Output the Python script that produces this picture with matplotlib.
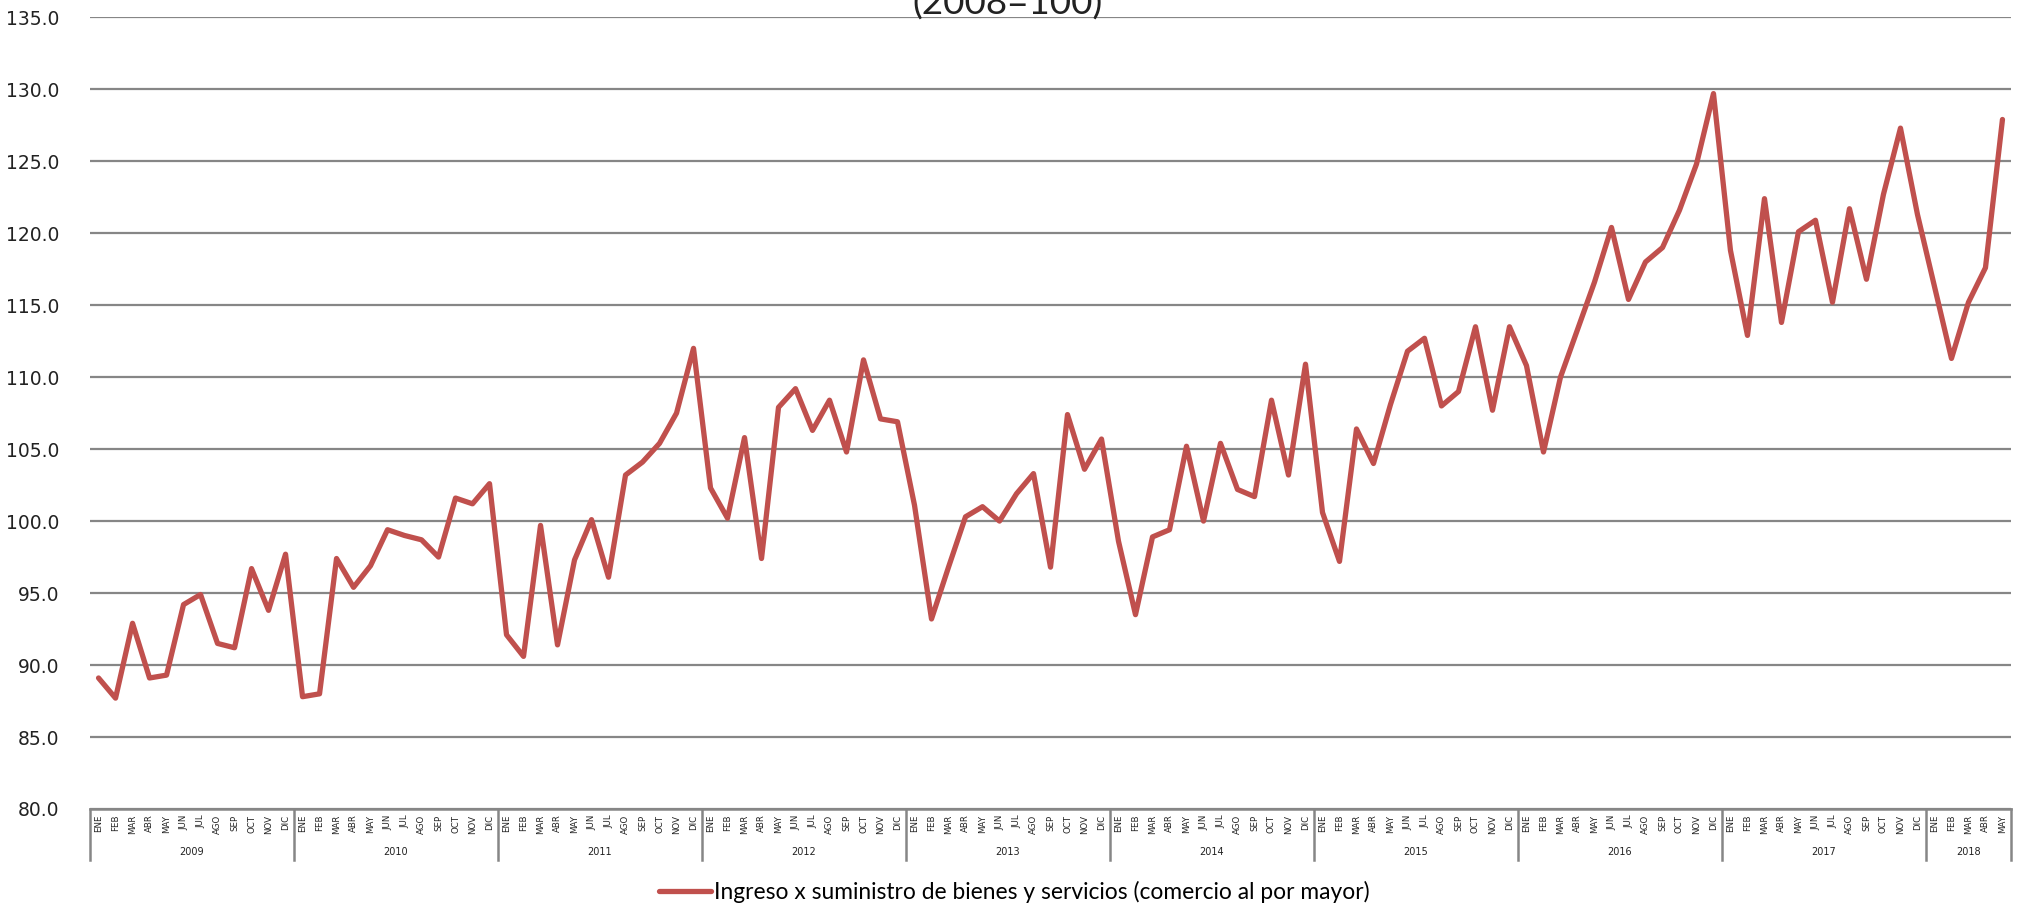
import numpy as np
import matplotlib.pyplot as plt
import matplotlib.transforms as mtransforms


#Data (index 2008=100):
meses = ['ENE', 'FEB', 'MAR', 'ABR', 'MAY', 'JUN', 'JUL', 'AGO', 'SEP', 'OCT', 'NOV', 'DIC']
anios = ['2009', '2010', '2011', '2012', '2013', '2014', '2015', '2016', '2017', '2018']

v2009 = [89.1, 87.7, 92.9, 89.1, 89.3, 94.2, 94.9, 91.5, 91.2, 96.7, 93.8, 97.7]
v2010 = [87.8, 88.0, 97.4, 95.4, 96.9, 99.4, 99.0, 98.7, 97.5, 101.6, 101.2, 102.6]
v2011 = [92.1, 90.6, 99.7, 91.4, 97.3, 100.1, 96.1, 103.2, 104.1, 105.4, 107.5, 112.0]
v2012 = [102.3, 100.2, 105.8, 97.4, 107.9, 109.2, 106.3, 108.4, 104.8, 111.2, 107.1, 106.9]
v2013 = [101.1, 93.2, 96.8, 100.3, 101.0, 100.0, 101.9, 103.3, 96.8, 107.4, 103.6, 105.7]
v2014 = [98.6, 93.5, 98.9, 99.4, 105.2, 100.0, 105.4, 102.2, 101.7, 108.4, 103.2, 110.9]
v2015 = [100.6, 97.2, 106.4, 104.0, 108.1, 111.8, 112.7, 108.0, 109.0, 113.5, 107.7, 113.5]
v2016 = [110.8, 104.8, 110.0, 113.3, 116.6, 120.4, 115.4, 118.0, 119.0, 121.6, 124.8, 129.7]
v2017 = [118.8, 112.9, 122.4, 113.8, 120.1, 120.9, 115.2, 121.7, 116.8, 122.7, 127.3, 121.3]
v2018 = [116.3, 111.3, 115.2, 117.6, 127.9]

serie = [v2009, v2010, v2011, v2012, v2013, v2014, v2015, v2016, v2017, v2018]
valores = np.concatenate(serie)
etiquetas_mes = []
for s in serie:
    etiquetas_mes += meses[:len(s)]

leyenda = 'Ingreso x suministro de bienes y servicios (comercio al por mayor)'
titulo = '(2008=100)'

rojo = '#C0504D'
gris = '#868686'


#Figure:
fig = plt.figure(figsize=(20.28, 9.05), dpi=100)
ax = fig.add_axes([0.0444, 0.1061, 0.9472, 0.8748])

x = np.arange(len(valores))
ax.plot(x, valores, color=rojo, linewidth=3.8, solid_joinstyle='round',
        solid_capstyle='round', label=leyenda, zorder=3)

ax.set_xlim(-0.5, len(valores) - 0.5)
ax.set_ylim(80, 135)
ax.set_yticks(np.arange(80, 135.1, 5))
ax.set_yticklabels(['%.1f' % v for v in np.arange(80, 135.1, 5)],
                   fontsize=13.5, color='#222222')
ax.yaxis.grid(True, color=gris, linewidth=1.6)
ax.set_axisbelow(True)

for lado in ['top', 'right', 'left']:
    ax.spines[lado].set_visible(False)
ax.spines['bottom'].set_color(gris)
ax.spines['bottom'].set_linewidth(1.8)
ax.tick_params(axis='y', length=0, pad=22)

#month labels
ax.set_xticks(x)
ax.set_xticklabels(etiquetas_mes, rotation=90, fontsize=6.2, color='#222222')
ax.tick_params(axis='x', length=0, pad=4)

#year labels and separators
trans = mtransforms.blended_transform_factory(ax.transData, ax.transAxes)
inicio = 0
for anio, s in zip(anios, serie):
    fin = inicio + len(s)
    ax.text((inicio + fin - 1) / 2, -0.0545, anio, transform=trans,
            ha='center', va='center', fontsize=7, color='#222222')
    inicio = fin
bordes = [-0.5]
inicio = 0
for s in serie:
    inicio += len(s)
    bordes.append(inicio - 0.5)
for b in bordes:
    ax.plot([b, b], [0, -0.0644], transform=trans, color=gris,
            linewidth=1.8, clip_on=False)

#title (cut off at the top edge, as in the original)
fig.text(0.497, 1 - 15 / 905, titulo, ha='center', va='baseline',
         fontsize=26.5, family='Lato', color='#222222')

fig.legend(loc='center', bbox_to_anchor=(0.5, 0.0144), frameon=False,
           prop={'family': 'Lato', 'size': 16.4}, handlelength=2.3,
           handletextpad=0.1, borderaxespad=0)

plt.savefig('out.png', dpi=100)
